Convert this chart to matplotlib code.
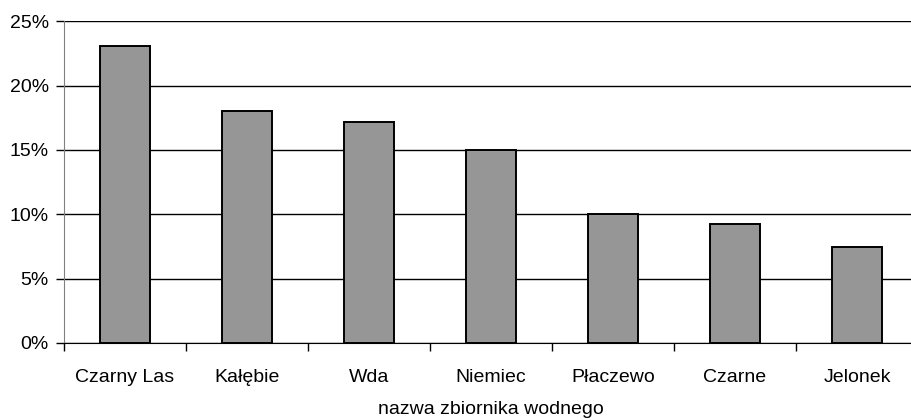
import numpy as np
import matplotlib
matplotlib.use("Agg")
import matplotlib.pyplot as plt
from matplotlib.ticker import FuncFormatter, FixedLocator

# data
lakes = ["Czarny Las", "Kałębie", "Wda", "Niemiec", "Płaczewo", "Czarne", "Jelonek"]
share = [23.1, 18.0, 17.2, 15.0, 10.0, 9.25, 7.45]
y_ticks = [0, 5, 10, 15, 20, 25]
x_title = "nazwa zbiornika wodnego"

plt.rcParams["font.family"] = ["Liberation Sans", "DejaVu Sans"]

fig = plt.figure(figsize=(9.12, 4.2), dpi=100)
# plot area runs past the right edge of the picture, as in the reference
ax = fig.add_axes([64 / 912, (420 - 342.8) / 420, 854 / 912, 321.5 / 420])

x = np.arange(len(lakes))
ax.set_axisbelow(True)
ax.bar(x, share, width=0.41, color="#969696", edgecolor="black", linewidth=1.4, zorder=3)

ax.set_xlim(-0.5, len(lakes) - 0.5)
ax.set_ylim(0, 25)
ax.set_yticks(y_ticks)
ax.yaxis.set_major_formatter(FuncFormatter(lambda v, p: f"{v:.0f}%"))
ax.yaxis.grid(True, color="black", linewidth=1.0)

ax.set_xticks(x)
ax.set_xticklabels(lakes)
ax.xaxis.set_minor_locator(FixedLocator(np.arange(len(lakes) + 1) - 0.5))
ax.tick_params(axis="x", which="major", length=0, pad=19, labelsize=14)
ax.tick_params(axis="x", which="minor", length=6, width=1, color="black")
ax.tick_params(axis="y", length=6, width=1, color="black", labelsize=14, pad=5)

for side in ("top", "right"):
    ax.spines[side].set_visible(False)
ax.spines["left"].set_color("#808080")
ax.spines["bottom"].set_color("black")

ax.set_xlabel(x_title, fontsize=14, labelpad=11)

fig.savefig("out.png", dpi=100)
